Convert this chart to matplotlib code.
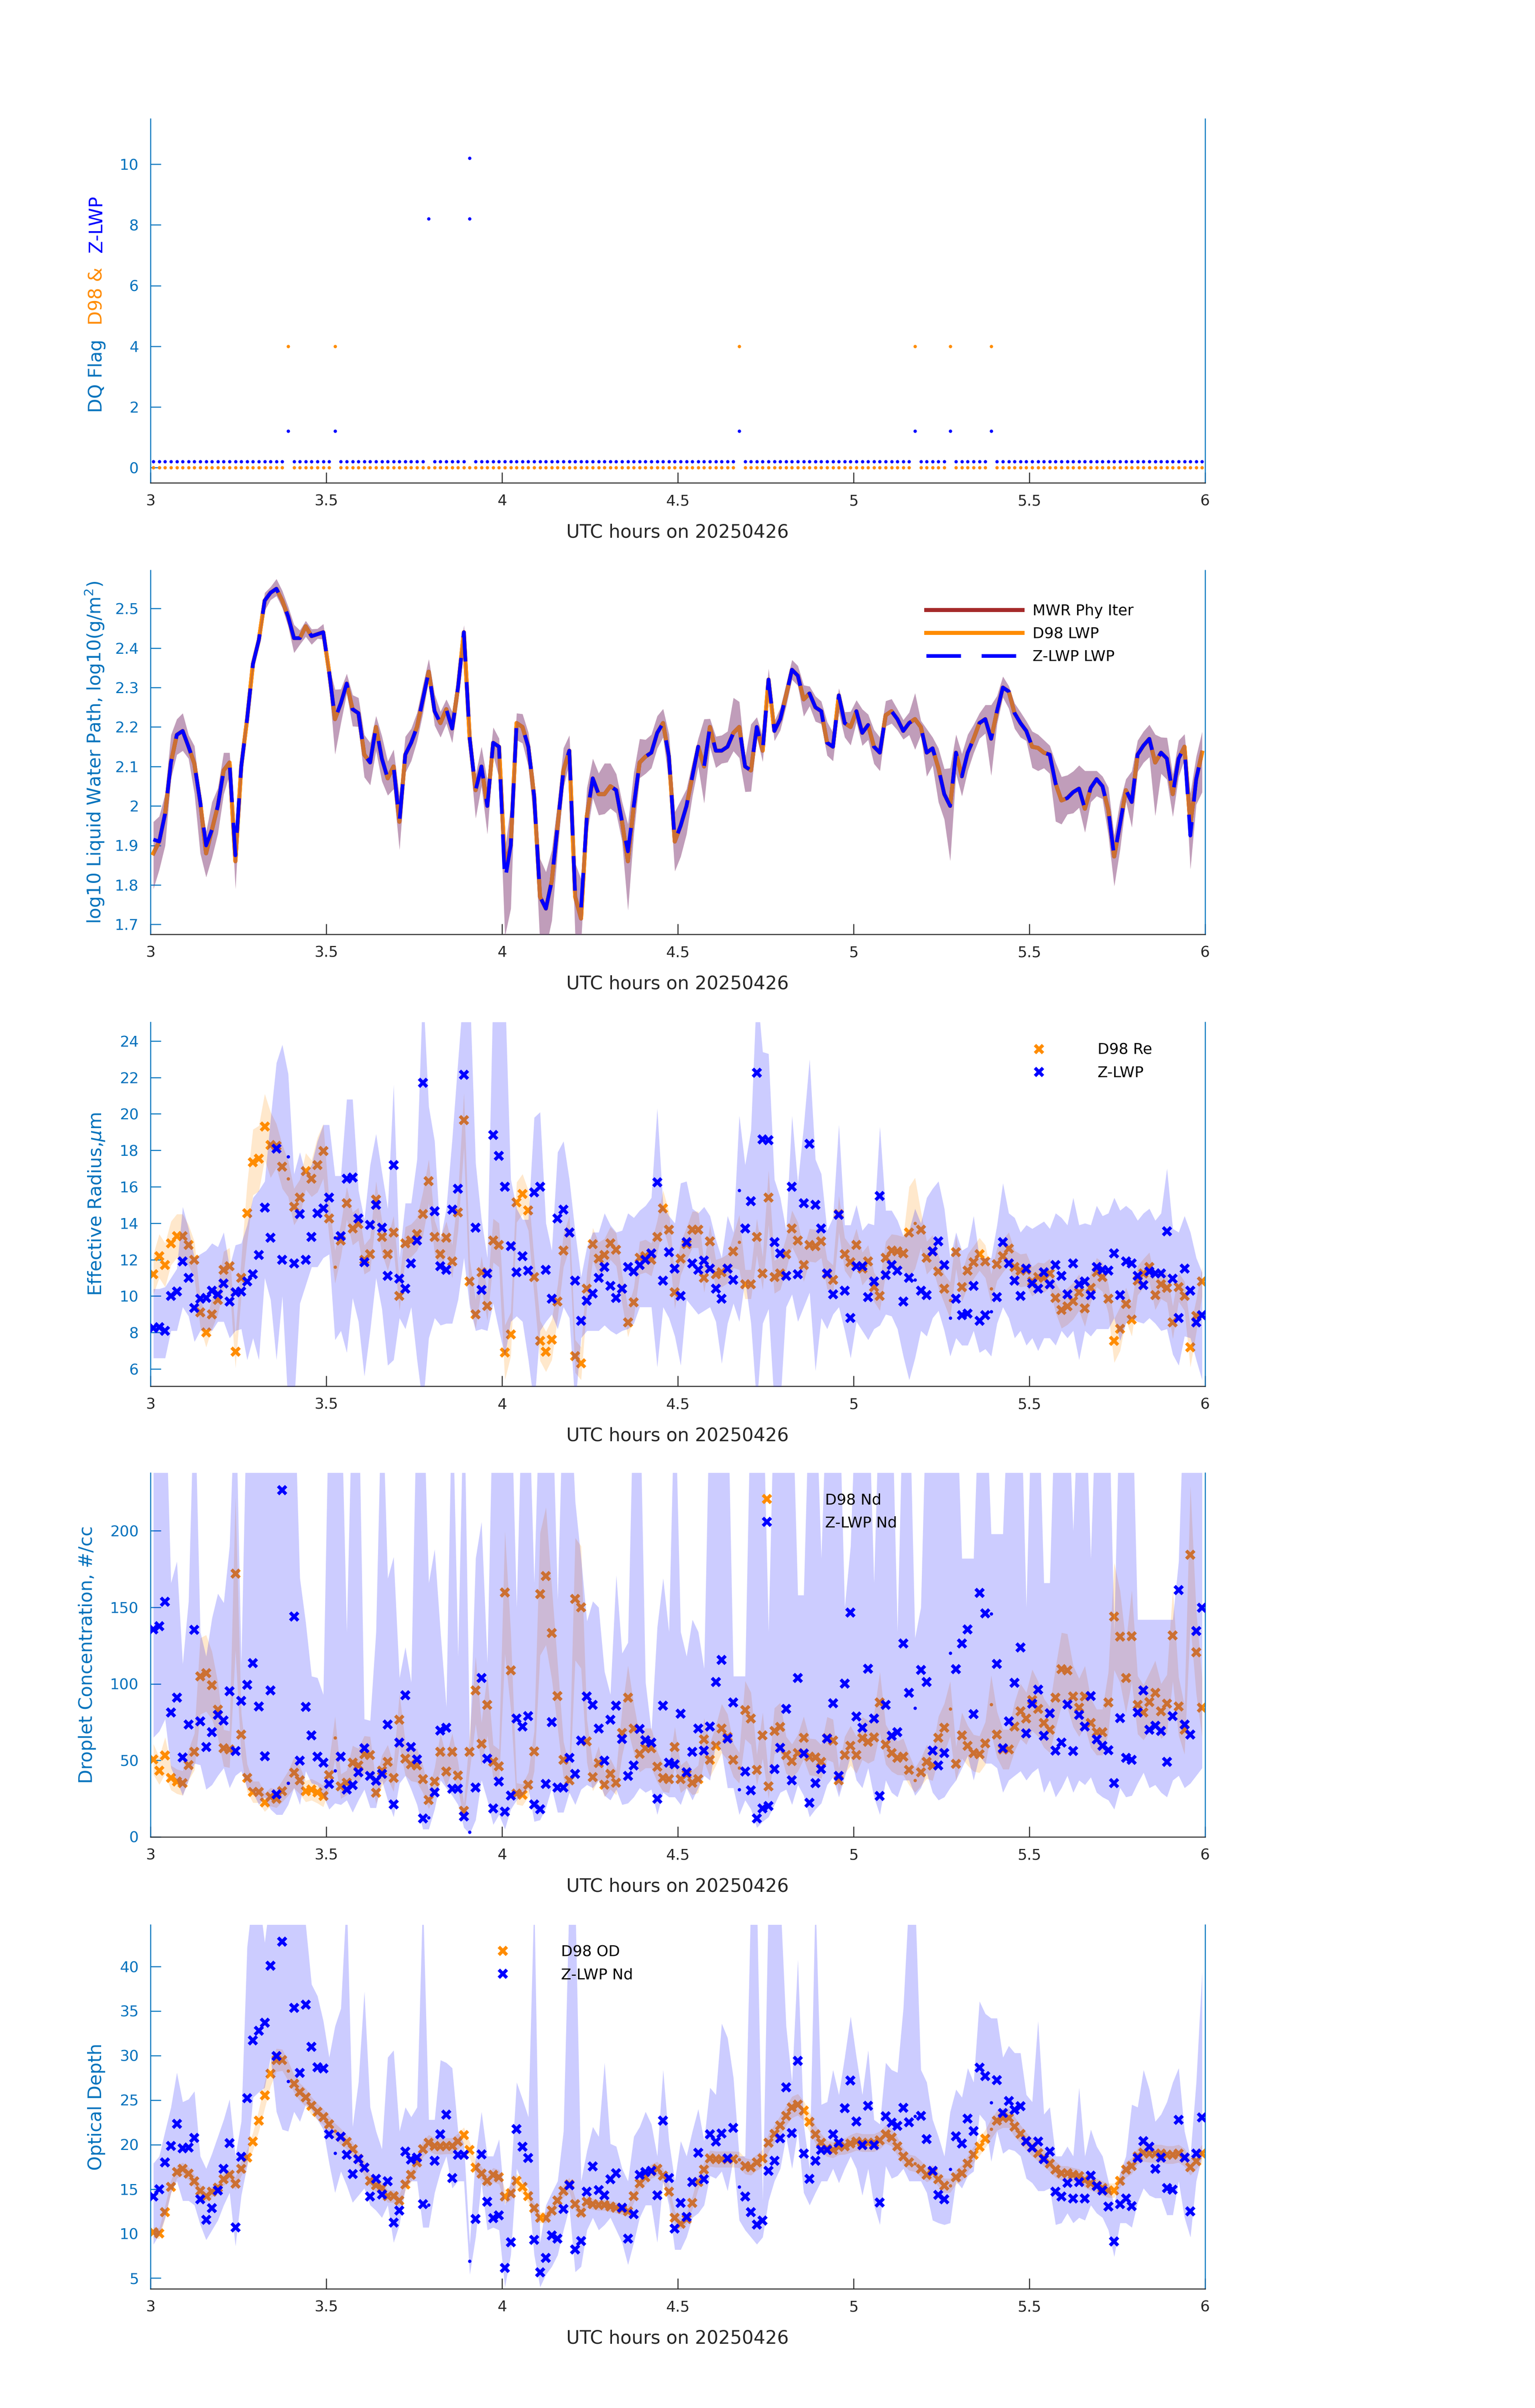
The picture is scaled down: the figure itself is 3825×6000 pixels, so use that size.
import numpy as np
import matplotlib
matplotlib.use("Agg")
import matplotlib.pyplot as plt
from matplotlib.lines import Line2D
from matplotlib.ticker import FuncFormatter

plt.rcParams['font.family'] = ['DejaVu Sans']
nan = float("nan")

# one sample per minute, 03:00 - 06:00 UTC
n_samples = 180
hours = 3.0 + (np.arange(n_samples) + 0.5) / 60.0

# data quality flags (all other samples are 0)
dq_d98_idx = [23, 31, 100, 130, 136, 143]
dq_d98_val = [4, 4, 4, 4, 4, 4]
dq_z_idx = [23, 31, 47, 54, 100, 130, 136, 143]
dq_z_val = [1, 1, 8, 10, 1, 1, 1, 1]
dq_z_extra_idx = [54]
dq_z_extra_val = [8]
dq_z_offset = 0.2

# log10 LWP (D98, MWR follows it)
lwp_d98 = [
    1.88, 1.91, 1.98, 2.11, 2.18, 2.19, 2.15, 2.107, 2.01, 1.88,
    1.94, 2.0, 2.09, 2.11, 1.86, 2.10, 2.22, 2.36, 2.42, 2.52,
    2.54, 2.55, 2.52, 2.48, 2.425, 2.425, 2.455, 2.43, 2.435, 2.44,
    2.34, 2.22, 2.26, 2.31, 2.245, 2.235, 2.13, 2.11, 2.2, 2.12,
    2.07, 2.10, 1.96, 2.13, 2.16, 2.20, 2.27, 2.34, 2.24, 2.21,
    2.245, 2.196, 2.30, 2.44, 2.17, 2.04, 2.10, 2.0, 2.16, 2.15,
    1.85, 1.90, 2.21, 2.20, 2.15, 2.025, 1.77, 1.74, 1.81, 1.95,
    2.09, 2.14, 1.77, 1.715, 1.975, 2.07, 2.03, 2.03, 2.05, 2.04,
    1.96, 1.86, 2.0, 2.11, 2.125, 2.135, 2.185, 2.21, 2.125, 1.91,
    1.95, 2.0, 2.075, 2.15, 2.10, 2.20, 2.14, 2.14, 2.15, 2.185,
    2.20, 2.10, 2.09, 2.20, 2.14, 2.32, 2.19, 2.22, 2.28, 2.345,
    2.33, 2.27, 2.285, 2.25, 2.24, 2.16, 2.15, 2.28, 2.21, 2.20,
    2.24, 2.185, 2.205, 2.15, 2.135, 2.23, 2.24, 2.22, 2.19, 2.21,
    2.22, 2.20, 2.135, 2.146, 2.096, 2.03, 2.0, 2.135, 2.075, 2.135,
    2.17, 2.21, 2.22, 2.17, 2.24, 2.30, 2.29, 2.235, 2.21, 2.19,
    2.15, 2.147, 2.135, 2.13, 2.057, 2.014, 2.02, 2.035, 2.044, 1.993,
    2.046, 2.068, 2.05, 1.99, 1.872, 1.954, 2.04, 2.01, 2.13, 2.153,
    2.17, 2.11, 2.135, 2.12, 2.03, 2.12, 2.15, 1.954, 2.068, 2.135,
]
# Z-LWP LWP: same as D98 except these samples
lwp_z_diff = {0: 1.915, 9: 1.90, 14: 1.875, 60: 1.81, 73: 1.74, 81: 1.885, 177: 1.925}

lwp_err_hi = [
    .08, .064, .05, .07, .04, .045, .03, .045, .015, .055,
    .07, .045, .045, .025, .05, .045, .02, .02, .015, .02,
    .015, .025, .025, .025, .034, .02, .014, .018, .014, .021,
    .014, .075, .036, .025, .036, .039, .05, .05, .028, .057,
    .043, .043, .064, .046, .036, .036, .036, .032, .043, .029,
    .025, .043, .036, .018, .043, .039, .05, .064, .039, .021,
    .04, .1, .025, .033, .036, .043, .096, .093, .078, .057,
    .057, .039, .085, .1, .071, .05, .053, .078, .058, .041,
    .05, .094, .085, .06, .043, .046, .043, .036, .057, .075,
    .064, .043, .036, .021, .12, .021, .036, .039, .039, .089,
    .064, .021, .117, .025, .036, .028, .025, .028, .028, .025,
    .025, .036, .018, .028, .025, .053, .036, .018, .028, .039,
    .028, .06, .027, .043, .039, .036, .031, .025, .028, .027,
    .066, .016, .06, .028, .05, .064, .096, .046, .057, .046,
    .036, .025, .036, .086, .039, .028, .014, .025, .028, .025,
    .039, .034, .032, .023, .053, .06, .058, .053, .059, .096,
    .043, .021, .025, .057, .053, .057, .028, .078, .036, .036,
    .036, .071, .039, .053, .05, .046, .032, .078, .057, .053,
]
lwp_err_lo = [
    .09, .071, .08, .04, .05, .05, .03, .075, .13, .06,
    .07, .07, .06, .03, .07, .045, .02, .02, .015, .025,
    .018, .018, .018, .025, .037, .016, .026, .021, .011, .018,
    .036, .089, .05, .025, .043, .034, .057, .057, .06, .057,
    .043, .057, .071, .046, .046, .036, .036, .021, .036, .036,
    .036, .036, .036, .036, .043, .071, .05, .071, .032, .078,
    .18, .16, .043, .041, .05, .071, .12, .1, .1, .064,
    .043, .032, .1, .06, .05, .05, .053, .05, .056, .058,
    .05, .124, .071, .039, .043, .039, .039, .036, .064, .075,
    .078, .071, .05, .05, .093, .05, .043, .032, .039, .046,
    .078, .064, .053, .025, .028, .021, .025, .028, .028, .025,
    .025, .043, .032, .036, .032, .032, .036, .043, .036, .046,
    .028, .032, .037, .043, .046, .028, .031, .028, .021, .03,
    .077, .02, .06, .043, .086, .064, .139, .053, .05, .046,
    .036, .039, .036, .093, .032, .025, .043, .039, .036, .025,
    .053, .058, .039, .048, .096, .06, .041, .053, .048, .06,
    .036, .043, .032, .064, .075, .064, .028, .064, .043, .043,
    .046, .135, .053, .053, .057, .046, .032, .114, .064, .1,
]

# effective radius, um
re_d98 = [
    11.2, 12.2, 11.7, 12.9, 13.3, 13.3, 12.8, 12.0, 9.1, 8.0,
    9.0, 9.8, 11.45, 11.65, 6.95, 11.0, 14.55, 17.35, 17.55, 19.3,
    18.3, 18.25, 17.1, 16.45, 14.9, 15.4, 16.85, 16.45, 17.2, 17.95,
    14.25, 11.6, 13.05, 15.1, 13.7, 13.95, 12.0, 12.3, 15.3, 13.25,
    12.3, 13.5, 10.0, 12.9, 13.05, 13.4, 14.5, 16.3, 13.25, 12.3,
    13.2, 11.9, 14.6, 19.65, 10.8, 9.0, 11.3, 9.45, 13.05, 12.8,
    6.9, 7.9, 15.15, 15.6, 14.7, 11.05, 7.55, 6.95, 7.6, 9.7,
    12.5, 13.5, 6.7, 6.3, 10.4, 12.85, 12.05, 12.25, 12.9, 12.55,
    10.4, 8.55, 9.65, 12.1, 12.2, 12.0, 13.25, 14.8, 13.65, 10.2,
    12.05, 12.85, 13.65, 13.65, 11.0, 13.0, 11.2, 11.3, 11.5, 12.45,
    12.95, 10.65, 10.65, 13.25, 11.25, 15.4, 11.05, 11.25, 12.3, 13.7,
    13.05, 11.7, 12.8, 12.75, 13.0, 11.2, 10.9, 14.5, 12.3, 11.85,
    12.8, 11.5, 11.9, 10.5, 10.0, 12.1, 12.5, 12.45, 12.35, 13.5,
    14.0, 13.65, 12.1, 12.45, 11.35, 10.4, 9.77, 12.4, 10.5, 11.4,
    11.85, 12.3, 11.9, 10.4, 11.75, 12.2, 12.6, 11.6, 11.4, 11.45,
    10.8, 11.05, 11.0, 11.25, 9.9, 9.23, 9.43, 9.73, 10.2, 9.33,
    10.45, 11.3, 11.05, 9.85, 7.55, 8.2, 9.57, 8.7, 10.85, 11.25,
    11.6, 10.05, 10.65, 10.45, 8.55, 10.5, 10.0, 7.2, 8.9, 10.8,
]
re_d98_err = [
    1.1, 1.2, 1.2, 1.2, 1.2, 1.2, 1.1, 1.0, 0.8, 0.8,
    0.8, 0.8, 1.0, 1.0, 0.9, 1.0, 1.6, 1.8, 1.8, 1.8,
    1.8, 1.2, 1.2, 1.0, 1.0, 1.0, 1.0, 1.0, 1.5, 1.5,
    1.0, 0.9, 0.9, 0.9, 0.9, 0.9, 0.8, 0.9, 1.0, 0.9,
    0.9, 0.9, 0.8, 0.9, 0.9, 0.9, 1.2, 1.2, 0.9, 0.9,
    0.9, 0.9, 1.0, 1.5, 1.2, 0.8, 0.9, 0.8, 1.2, 1.2,
    1.5, 1.2, 1.1, 1.1, 1.1, 1.0, 1.1, 1.1, 1.1, 0.9,
    0.9, 0.9, 0.9, 0.9, 0.9, 0.9, 0.9, 0.9, 0.9, 0.9,
    0.8, 0.8, 0.8, 0.9, 0.9, 0.9, 0.9, 1.0, 1.0, 0.9,
    0.9, 0.9, 1.0, 1.0, 0.8, 0.9, 0.8, 0.8, 0.8, 0.9,
    1.5, 0.8, 0.8, 1.0, 0.9, 1.5, 0.9, 0.9, 0.9, 1.0,
    1.0, 0.9, 0.9, 0.9, 0.9, 0.8, 0.8, 1.0, 0.9, 0.9,
    0.9, 0.9, 0.9, 0.8, 0.8, 0.9, 0.9, 0.9, 0.9, 2.5,
    2.5, 1.0, 0.9, 0.9, 0.9, 0.8, 1.0, 0.9, 0.8, 0.9,
    0.9, 0.9, 0.9, 0.8, 0.9, 0.9, 0.9, 0.9, 0.9, 0.9,
    0.8, 0.8, 0.8, 0.8, 0.8, 1.0, 1.0, 1.0, 1.0, 1.0,
    0.8, 0.8, 0.8, 0.8, 1.2, 1.2, 0.9, 0.9, 0.8, 0.8,
    0.8, 0.8, 0.8, 0.8, 0.9, 0.8, 0.8, 1.1, 0.9, 0.8,
]
re_z = [
    8.25, 8.3, 8.1, 10.0, 10.25, 11.9, 11.0, 9.35, 9.85, 9.9,
    10.3, 10.1, 10.7, 9.7, 10.2, 10.25, 10.8, 11.2, 12.25, 14.85,
    13.2, 18.1, 12.0, 17.65, 11.8, 14.5, 12.0, 13.25, 14.55, 14.8,
    15.4, 13.2, 13.3, 16.45, 16.5, 14.25, 11.85, 13.9, 15.0, 13.75,
    11.1, 17.2, 10.95, 10.4, 11.8, 13.05, 21.7, nan, 14.65, 11.65,
    11.45, 14.75, 15.9, 22.15, nan, 13.75, 10.35, 11.25, 18.85, 17.7,
    16.0, 12.75, 11.3, 12.2, 11.4, 15.7, 16.0, 11.45, 9.85, 14.25,
    14.75, 13.5, 10.85, 8.65, 9.75, 10.15, 11.0, 11.6, 10.55, 9.9,
    10.4, 11.6, 11.35, 11.7, 12.0, 12.35, 16.25, 10.85, 12.4, 11.5,
    10.0, 12.95, 11.8, 11.45, 11.95, 11.5, 10.4, 9.85, 11.5, 10.9,
    15.8, 13.7, 15.2, 22.25, 18.6, 18.55, 12.95, 12.35, 11.1, 16.0,
    11.2, 15.1, 18.35, 15.0, 13.7, 11.25, 10.1, 14.45, 10.3, 8.8,
    11.65, 11.65, 9.95, 10.8, 15.5, 11.15, 11.7, 11.4, 9.7, 11.0,
    10.9, 10.3, 10.05, 12.45, 13.0, 11.7, 8.8, 9.85, 8.95, 9.05,
    10.55, 8.65, 8.95, 9.15, 9.95, 12.95, 11.8, 10.85, 10.0, 11.5,
    10.7, 10.4, 11.3, 10.65, 11.7, 11.1, 10.1, 11.8, 10.65, 10.8,
    10.05, 11.6, 11.45, 11.4, 12.35, 10.05, 11.9, 11.8, 11.1, 10.6,
    11.35, 11.25, 11.25, 13.55, 10.95, 8.8, 11.5, 10.3, 8.55, 8.95,
]
re_z_hi = [
    10.4, 10.4, 10.5, 11.0, 11.5, 14.9, 13.7, 12.1, 12.3, 12.5,
    12.9, 12.7, 13.5, 11.6, 12.8, 12.9, 13.9, 15.4, 15.8, 16.3,
    19.7, 22.8, 23.8, 22.2, 16.7, 17.9, 16.7, 17.2, 18.5, 19.4,
    19.4, 16.6, 16.6, 20.8, 20.8, 15.8, 14.2, 17.2, 18.9, 16.8,
    14.8, 21.6, 12.1, 15.1, 15.1, 17.5, 27, 20.4, 18.5, 13.1,
    14.8, 18.6, 22.9, 27, 27, 17.3, 14.2, 12.1, 27, 27,
    27, 16.4, 14.8, 14.2, 14.2, 19.8, 20.1, 14.0, 12.5, 17.9,
    18.5, 16.4, 13.5, 11.05, 12.7, 13.5, 13.5, 14.55, 13.9, 13.5,
    13.6, 14.55, 14.3, 14.7, 14.96, 15.4, 20.3, 14.96, 14.4, 14.0,
    16.2, 16.3, 14.8, 14.55, 14.9, 14.4, 13.1, 12.1, 14.4, 13.5,
    19.9, 17.2, 19.1, 27, 23.4, 23.3, 16.4, 15.4, 13.6, 19.9,
    16.2, 19.3, 23.0, 17.5, 16.7, 13.6, 14.3, 19.4, 13.9, 13.9,
    15.0, 13.6, 14.0, 13.9, 19.3, 14.7, 14.7, 14.15, 13.3, 13.6,
    14.8, 14.0, 15.4, 15.9, 16.3, 14.8, 12.1, 13.5, 12.5, 12.7,
    14.4, 12.1, 12.1, 12.1, 13.9, 16.2, 14.55, 14.3, 13.5, 13.9,
    13.7, 13.9, 14.1, 13.7, 14.55, 14.3, 13.9, 15.4, 13.9, 14.0,
    13.9, 14.96, 14.4, 14.55, 15.4, 14.7, 14.96, 14.7, 14.15, 14.55,
    14.8, 14.15, 14.55, 17.0, 13.7, 13.5, 14.4, 13.5, 12.1, 11.3,
]
re_z_lo = [
    6.6, 6.6, 6.6, 8.1, 8.1, 9.4, 8.9, 7.5, 8.1, 8.2,
    8.1, 8.6, 8.6, 7.7, 8.1, 8.2, 6.5, 7.7, 6.5, 11.0,
    9.8, 6.5, 10.0, 4.0, 4.0, 9.6, 10.6, 11.6, 11.6, 12.1,
    12.3, 7.6, 8.1, 6.9, 9.9, 8.6, 5.6, 8.1, 11.0, 9.3,
    6.2, 6.5, 8.8, 8.2, 9.4, 6.5, 4.0, 7.7, 8.8, 8.4,
    8.5, 8.5, 9.8, 12.1, 9.4, 8.1, 8.2, 8.1, 9.6, 8.1,
    6.7, 8.6, 8.9, 8.6, 6.5, 4.0, 8.1, 8.6, 9.0, 8.2,
    9.4, 8.8, 4.0, 7.7, 8.1, 8.1, 8.1, 8.4, 8.1, 7.9,
    8.1, 8.2, 8.5, 9.4, 9.4, 9.4, 6.1, 9.4, 8.8, 7.8,
    6.2, 9.8, 9.4, 9.0, 9.2, 9.4, 8.6, 6.3, 8.5, 9.6,
    8.6, 10.9, 8.5, 4.0, 8.5, 9.3, 4.0, 4.0, 9.4, 10.1,
    8.6, 9.4, 10.2, 5.9, 8.8, 8.2, 9.0, 9.4, 8.1, 6.6,
    8.6, 8.1, 7.6, 8.2, 8.4, 9.0, 8.9, 8.2, 6.7, 5.4,
    6.6, 8.1, 7.8, 8.8, 9.2, 8.1, 6.7, 7.7, 7.3, 7.3,
    8.1, 6.9, 7.1, 6.7, 8.5, 9.4, 8.8, 7.7, 8.1, 7.3,
    7.7, 7.0, 7.7, 7.7, 7.3, 8.1, 7.7, 8.1, 6.5, 8.1,
    7.8, 8.2, 8.2, 8.2, 8.8, 7.55, 8.5, 8.8, 8.6, 8.5,
    8.8, 8.5, 8.1, 8.2, 6.8, 6.2, 7.8, 7.7, 6.5, 5.4,
]

# droplet concentration, #/cc
nd_d98 = [
    50.7, 43.2, 53.1, 38.6, 36.2, 35.1, 47.0, 55.6, 105, 107,
    99, 83, 58, 57.2, 172, 66.8, 38.6, 29.3, 29.3, 22.5,
    26.1, 25, 29.8, 35, 41.9, 37, 29.8, 30.9, 29, 26.6,
    40.3, 64.7, 33, 35.4, 48.6, 46.7, 54, 53.5, 28.7, 43.2,
    49.1, 38.6, 76.5, 51.2, 47.5, 46.7, 37.8, 24.2, 36.2, 55.6,
    42.7, 55.6, 40, 16.9, 55.6, 95.8, 60.7, 86.2, 49.1, 46.2,
    159.7, 108.7, 28.2, 27.4, 34.1, 55.9, 158.6, 170.4, 133.2, 92.1,
    50.2, 37, 155.4, 150.1, 62.5, 39, 48.3, 34.1, 41.1, 35.4,
    68, 91, 70.9, 54.3, 58, 58, 45.9, 38.6, 37.8, 58.8,
    37.8, 41, 35.4, 37.8, 63.6, 50.2, 59.6, 70.9, 65.2, 50.2,
    45, 82.9, 77.3, 43.8, 66.3, 33, 69.2, 71.7, 53.5, 49.6,
    54.8, 64.7, 52.3, 51.9, 49.1, 64.4, 62.8, 37, 53.5, 59.6,
    53.5, 64.4, 62, 65, 87.8, 60.4, 54.8, 51.5, 52.3, 43.8,
    37, 42.2, 49.1, 46.7, 64.7, 71.2, 83.7, 47.8, 66.3, 59.6,
    54.8, 53.9, 61.2, 86.6, 66.8, 57.2, 57.2, 72.1, 82.1, 77.3,
    89.4, 83.7, 74.4, 70, 91, 109.5, 108.7, 91.8, 84.5, 91.8,
    74.4, 68.4, 68.4, 87.8, 144.1, 130.8, 103.9, 131.2, 86.2, 81.3,
    88, 94.2, 82.1, 87, 131.7, 85.3, 70, 184.4, 120.5, 84.5,
]
nd_d98_err = [
    10, 9, 12, 8, 8, 8, 10, 12, 25, 25,
    22, 18, 12, 12, 50, 14, 9, 7, 7, 6,
    6, 6, 7, 8, 10, 9, 7, 7, 7, 7,
    9, 14, 8, 8, 11, 11, 12, 12, 7, 10,
    11, 9, 17, 11, 11, 11, 9, 6, 9, 12,
    10, 12, 9, 5, 12, 22, 14, 20, 11, 11,
    40, 25, 7, 7, 8, 13, 40, 45, 30, 21,
    12, 9, 40, 40, 14, 9, 11, 8, 10, 8,
    15, 21, 16, 12, 13, 13, 10, 9, 9, 13,
    9, 9, 8, 9, 14, 11, 13, 16, 15, 11,
    10, 19, 17, 10, 15, 8, 15, 16, 12, 11,
    12, 14, 12, 12, 11, 14, 14, 8, 12, 13,
    12, 14, 14, 15, 20, 13, 12, 11, 12, 10,
    8, 9, 11, 10, 14, 16, 18, 11, 15, 13,
    12, 12, 14, 19, 15, 13, 13, 16, 18, 17,
    20, 18, 16, 15, 20, 24, 24, 20, 19, 20,
    16, 15, 15, 20, 35, 30, 23, 30, 19, 18,
    19, 21, 18, 19, 30, 19, 16, 45, 27, 19,
]
nd_z = [
    135.6, 137.7, 153.8, 81.3, 91, 51.9, 73.3, 135.3, 75.4, 58.8,
    68.4, 79.7, 76, 95.3, 56, 88.9, 99.5, 113.5, 85.3, 52.7,
    95.8, 27.7, 226.7, 35, 144.1, 49.9, 85, 66.3, 52.3, 48.6,
    34.6, 43.2, 52.3, 30.9, 33.8, 42.2, 58, 39.9, 36.7, 41.1,
    73.3, 21.3, 61.5, 92.6, 58.8, 50.7, 12.1, 12.6, 29, 69.6,
    71.2, 31.4, 31.4, 13.2, 3.2, 32.2, 103.9, 51.2, 18.5, 36.2,
    16.4, 27, 77.3, 72, 78.9, 21.3, 18, 34.6, 74.9, 32.2,
    32.2, 51.5, 41.1, 62.8, 91.8, 86.2, 70.9, 49.9, 76.5, 85.7,
    63.9, 39.9, 46.7, 70.5, 63.1, 61.5, 25, 85.7, 48.6, 47.5,
    80.5, 42.2, 55.6, 70.9, 56.4, 72.1, 101.1, 115.6, 64.1, 87.8,
    30.9, 42.7, 30.3, 12.1, 18.5, 20.1, 44.3, 58.3, 83.7, 37,
    103.9, 54.4, 22.2, 35.1, 44.3, 64.1, 87.3, 39.9, 100.2, 146.5,
    78.6, 71.2, 109.8, 77.3, 26.6, 86.2, 66, 68.4, 126.4, 94.2,
    84.1, 109.2, 101.1, 56.4, 46.7, 54.8, 120, 109.5, 126.4, 135.6,
    80.2, 159.4, 146.2, 145.7, 113, 58, 75.4, 100.6, 123.7, 67.6,
    87, 96.3, 66, 80.8, 56.4, 61.5, 86.6, 56, 79.7, 72.1,
    92.1, 63.6, 59.6, 56.7, 35.1, 77.6, 51.5, 50.2, 81.3, 95.8,
    70, 72.5, 69.2, 49.1, 78.9, 161.4, 73.3, 66.8, 134.5, 149.8,
]
nd_z_hi = [
    300, 300, 300, 166, 180, 113, 154, 300, 134, 118,
    143, 159, 153, 190, 300, 113, 300, 300, 300, 300,
    300, 300, 300, 300, 300, 169, 140, 105, 104, 93,
    300, 300, 300, 134, 300, 300, 77, 76, 134, 300,
    169, 183, 104, 124, 101, 300, 300, 166, 188, 134,
    85, 300, 118, 300, 58, 182, 206, 114, 300, 300,
    300, 300, 150, 300, 300, 166, 300, 300, 300, 155,
    300, 300, 219, 182, 141, 154, 150, 108, 93, 171,
    120, 127, 300, 300, 101, 69, 137, 169, 134, 300,
    134, 118, 142, 134, 110, 300, 300, 300, 300, 105,
    105, 105, 300, 300, 300, 134, 300, 300, 300, 300,
    158, 158, 300, 300, 182, 300, 300, 300, 150, 190,
    300, 300, 300, 166, 300, 300, 300, 134, 300, 300,
    130, 150, 300, 300, 300, 300, 300, 300, 182, 182,
    182, 300, 300, 198, 198, 198, 300, 300, 300, 150,
    300, 300, 166, 166, 300, 300, 300, 200, 300, 300,
    182, 300, 300, 300, 134, 300, 300, 300, 142, 142,
    142, 142, 142, 142, 142, 180, 300, 300, 300, 300,
]
nd_z_lo = [
    65, 69, 77, 45, 37, 27, 37, 48, 47, 31,
    34, 40, 45, 32, 40, 43, 32, 29, 21, 26,
    18, 14.5, 14.5, 21, 32, 21, 43, 35, 34, 27,
    18, 22, 21, 24, 16, 24, 31, 19, 19, 37,
    24, 13, 35, 40, 31, 21, 5, 5, 18, 37,
    32, 27, 21, 6, 2, 11, 37, 24, 8, 14.5,
    5, 18, 24, 27, 32, 10, 11, 19, 32, 16,
    16, 29, 21, 31, 34, 32, 37, 27, 24, 31,
    21, 22, 26, 32, 29, 31, 14.5, 29, 26, 26,
    21, 32, 24, 32, 40, 37, 61, 56, 32, 32,
    14.5, 24, 18, 6, 10, 13, 21, 29, 31, 21,
    34, 27, 13, 18, 22, 34, 39, 26, 39, 53,
    37, 32, 45, 26, 14.5, 37, 29, 26, 37, 37,
    27, 32, 42, 29, 24, 26, 32, 37, 45, 53,
    37, 53, 48, 48, 45, 29, 37, 40, 43, 37,
    42, 45, 29, 37, 26, 32, 40, 29, 37, 34,
    39, 29, 26, 24, 18, 32, 26, 27, 35, 42,
    32, 34, 29, 26, 37, 40, 32, 35, 40, 45,
]

# optical depth
od_d98 = [
    10.14, 10.0, 12.4, 15.25, 16.9, 17.3, 16.75, 15.9, 14.8, 14.2,
    14.7, 15.15, 16.1, 16.6, 15.6, 17.3, 18.55, 20.35, 22.7, 25.55,
    27.95, 29.5, 29.5, 28.3, 26.85, 25.9, 25.3, 24.35, 23.7, 23.1,
    22.3, 21.5, 20.9, 20.3, 19.5, 18.4, 17.4, 15.95, 15.45, 15.1,
    14.2, 14.2, 13.7, 15.5, 16.6, 18.0, 19.5, 20.2, 19.85, 19.8,
    19.85, 19.85, 20.35, 21.05, 19.4, 17.4, 16.75, 15.95, 16.6, 16.35,
    14.15, 14.55, 15.95, 15.25, 14.2, 12.85, 11.8, 11.8, 12.6, 13.7,
    14.8, 15.5, 13.3, 12.35, 13.6, 13.3, 13.2, 13.2, 13.05, 12.9,
    12.75, 12.5, 14.2, 15.65, 16.35, 17.0, 17.3, 16.5, 14.7, 11.8,
    11.1, 11.65, 13.45, 15.8, 17.2, 18.45, 18.35, 18.35, 18.35, 18.35,
    18.3, 17.6, 17.45, 18.0, 18.45, 20.2, 21.2, 22.15, 23.25, 24.2,
    24.5, 23.8, 22.55, 21.15, 20.2, 19.55, 19.4, 19.75, 19.8, 20.1,
    20.35, 20.2, 20.2, 20.2, 20.5, 21.15, 20.8, 19.8, 18.7, 18.0,
    17.85, 17.3, 16.6, 16.9, 16.1, 15.4, 15.4, 16.35, 16.8, 17.85,
    18.85, 19.75, 20.65, 21.75, 22.7, 23.0, 23.0, 22.0, 21.2, 20.35,
    19.7, 19.05, 18.5, 17.85, 17.2, 16.8, 16.8, 16.6, 16.45, 16.0,
    15.65, 15.4, 15.1, 14.85, 14.85, 15.95, 17.2, 17.6, 18.7, 19.1,
    19.0, 19.0, 19.0, 18.85, 18.85, 19.0, 18.55, 17.45, 18.15, 19.0,
]
od_d98_err = [
    0.6, 0.6, 0.7, 0.7, 0.7, 0.7, 0.7, 0.7, 0.7, 0.6,
    0.6, 0.6, 0.7, 0.7, 0.7, 0.8, 0.9, 1.0, 1.2, 1.5,
    1.4, 1.3, 1.2, 1.1, 1.0, 1.0, 1.0, 1.0, 0.9, 0.9,
    0.9, 0.9, 0.9, 0.8, 0.8, 0.8, 0.8, 0.7, 0.7, 0.7,
    0.7, 0.7, 0.7, 0.7, 0.8, 0.8, 0.9, 0.9, 0.9, 0.9,
    0.9, 0.9, 0.9, 0.9, 0.9, 0.8, 0.8, 0.7, 0.8, 0.8,
    0.8, 0.8, 0.8, 0.7, 0.7, 0.6, 0.6, 0.6, 0.6, 0.7,
    0.7, 0.8, 0.7, 0.6, 0.7, 0.6, 0.6, 0.6, 0.6, 0.6,
    0.6, 0.6, 0.7, 0.7, 0.8, 0.8, 0.8, 0.8, 0.8, 0.7,
    0.6, 0.6, 0.7, 0.8, 0.8, 0.9, 0.9, 0.9, 0.9, 0.9,
    0.9, 0.9, 0.9, 0.9, 1.0, 1.0, 1.0, 1.1, 1.1, 1.2,
    1.2, 1.1, 1.1, 1.0, 1.0, 0.9, 0.9, 0.9, 0.9, 1.0,
    1.0, 1.0, 1.0, 1.0, 1.0, 1.0, 1.0, 1.0, 0.9, 0.9,
    0.9, 0.9, 0.8, 0.8, 0.8, 0.8, 0.8, 0.8, 0.9, 0.9,
    0.9, 1.0, 1.0, 1.1, 1.1, 1.1, 1.1, 1.1, 1.0, 1.0,
    1.0, 0.9, 0.9, 0.9, 0.9, 0.8, 0.8, 0.8, 0.8, 0.8,
    0.8, 0.8, 0.8, 0.8, 0.8, 0.8, 0.9, 0.9, 0.9, 1.0,
    1.0, 1.0, 1.0, 1.0, 1.0, 1.0, 1.0, 0.9, 0.9, 1.0,
]
od_z = [
    14.15, 15.0, 18.0, 19.85, 22.35, 19.6, 19.65, 20.75, 13.85, 11.55,
    12.85, 14.85, 17.3, 20.15, 10.7, 18.65, 25.2, 31.7, 32.8, 33.7,
    40.1, 29.95, 42.8, 27.1, 35.35, 28.05, 35.7, 31.0, 28.7, 28.55,
    21.15, 19.05, 20.9, 18.85, 16.7, 18.35, 17.4, 14.15, 16.15, 14.4,
    15.9, 11.25, 12.6, 19.2, 18.3, 18.55, 13.3, 13.2, 18.2, 21.15,
    23.35, 16.25, 18.85, 18.85, 6.9, 11.65, 18.9, 13.6, 11.75, 12.05,
    6.15, 9.05, 21.75, 19.75, 18.5, 9.3, 5.65, 7.25, 9.8, 9.45,
    12.75, 15.45, 8.2, 9.15, 14.7, 17.55, 14.9, 14.3, 16.1, 16.8,
    12.9, 9.45, 12.2, 16.6, 16.9, 17.05, 14.3, 22.7, 16.25, 10.55,
    13.45, 11.85, 15.8, 19.1, 16.1, 21.15, 20.35, 21.25, 18.45, 21.9,
    15.25, 14.15, 12.4, 11.0, 11.45, 17.05, 18.2, 20.7, 26.45, 21.3,
    29.4, 19.0, 16.15, 18.2, 19.4, 19.4, 21.15, 20.2, 24.1, 27.2,
    22.6, 19.95, 24.35, 19.95, 13.5, 23.2, 22.45, 22.1, 24.15, 22.5,
    23.2, 23.25, 20.6, 17.05, 14.35, 13.85, 17.25, 20.95, 20.1, 22.9,
    21.5, 28.65, 27.7, 24.7, 27.25, 23.55, 24.9, 23.9, 24.3, 20.4,
    19.65, 20.35, 18.35, 19.2, 14.7, 14.15, 15.7, 13.95, 15.8, 13.95,
    16.5, 15.35, 14.85, 13.05, 9.1, 13.3, 13.95, 13.1, 18.5, 20.4,
    19.75, 17.3, 18.55, 15.1, 14.95, 22.8, 18.55, 12.5, 19.0, 23.05,
]
od_z_hi = [
    17.9, 18.7, 21.5, 24.2, 28.1, 24.8, 25.1, 26.0, 18.7, 17.3,
    19.0, 20.9, 22.8, 25.1, 18.7, 22.6, 42.2, 48, 48, 42.7,
    48, 48, 48, 48, 48, 48, 44.7, 38.0, 36.7, 33.9,
    29.8, 33.3, 35.3, 48, 22.0, 27.0, 37.2, 24.2, 21.5, 19.5,
    29.8, 30.6, 21.5, 24.2, 23.1, 24.2, 48, 22.8, 22.8, 29.5,
    29.2, 28.6, 21.5, 20.1, 8.8, 18.7, 23.7, 18.7, 18.7, 20.6,
    13.2, 15.9, 27.0, 25.1, 23.1, 48, 9.0, 13.2, 14.6, 15.9,
    21.5, 48, 48, 15.9, 19.3, 22.0, 20.9, 29.2, 20.1, 19.8,
    17.3, 15.9, 20.9, 22.0, 23.7, 22.3, 18.7, 28.4, 20.4, 15.9,
    20.4, 18.7, 21.5, 24.0, 20.4, 26.4, 25.6, 33.6, 32.0, 27.5,
    18.7, 18.7, 48, 48, 13.7, 48, 48, 48, 33.3, 27.0,
    40.8, 22.3, 17.3, 48, 24.5, 24.8, 28.4, 25.6, 29.8, 34.4,
    29.8, 25.6, 30.6, 22.8, 22.3, 29.2, 28.4, 28.1, 35.3, 48,
    48, 28.4, 27.0, 22.8, 20.9, 18.7, 23.7, 26.2, 25.3, 28.6,
    27.0, 36.1, 34.7, 34.2, 34.2, 29.8, 31.1, 30.3, 30.3, 25.6,
    24.8, 33.9, 23.4, 24.2, 18.7, 18.7, 19.8, 18.7, 26.4, 18.7,
    21.7, 19.8, 18.7, 15.9, 13.2, 16.8, 18.7, 24.5, 24.2, 28.4,
    26.2, 22.6, 23.4, 24.8, 27.0, 28.6, 21.5, 18.7, 27.0, 39.4,
]
od_z_lo = [
    8.8, 9.9, 11.8, 14.6, 15.9, 13.7, 13.7, 13.2, 11.0, 9.3,
    10.4, 11.5, 13.2, 14.6, 8.6, 14.3, 17.6, 25.3, 25.9, 26.4,
    29.8, 23.7, 21.7, 21.5, 23.7, 22.6, 24.5, 23.9, 22.8, 21.7,
    17.9, 14.6, 17.0, 15.4, 13.5, 14.3, 15.1, 13.2, 12.6, 11.8,
    13.2, 9.0, 11.0, 15.1, 15.9, 15.9, 10.7, 10.7, 14.6, 17.0,
    18.7, 15.1, 15.9, 15.9, 5.4, 9.6, 15.7, 10.4, 10.7, 10.4,
    4.0, 7.6, 17.3, 15.7, 15.1, 7.6, 4.0, 5.4, 6.3, 7.6,
    10.4, 12.9, 5.7, 6.3, 10.4, 11.8, 10.4, 11.0, 11.8, 10.4,
    9.0, 6.5, 9.0, 11.8, 13.2, 13.2, 9.0, 15.9, 13.2, 8.2,
    8.2, 9.6, 11.8, 12.3, 13.2, 16.5, 16.2, 17.0, 14.8, 18.4,
    11.5, 10.4, 9.6, 8.8, 9.6, 13.7, 15.9, 17.3, 20.9, 17.3,
    21.5, 14.6, 13.2, 14.6, 15.9, 15.9, 17.3, 15.7, 17.3, 18.7,
    17.3, 14.3, 17.3, 13.2, 11.0, 17.6, 16.2, 16.5, 17.3, 15.9,
    15.9, 15.9, 14.6, 11.5, 11.2, 11.0, 11.2, 15.9, 15.1, 16.5,
    17.0, 23.4, 22.6, 18.1, 21.5, 19.0, 19.5, 19.3, 18.7, 16.2,
    15.7, 14.8, 14.8, 15.1, 11.0, 11.2, 12.3, 11.2, 11.8, 11.5,
    13.2, 12.3, 11.8, 10.4, 7.4, 11.2, 11.2, 10.7, 13.5, 15.1,
    14.3, 14.0, 14.0, 12.1, 12.1, 15.9, 11.8, 9.6, 15.9, 18.7,
]


def fit(values):
    # guard against a miscounted list: pad with NaN / cut to n_samples
    a = np.asarray(values, dtype=float)
    if len(a) >= n_samples:
        return a[:n_samples]
    return np.concatenate([a, np.full(n_samples - len(a), np.nan)])


c_axis = '#0072BD'
c_grey = '#262626'
c_d98 = '#FF8C00'
c_z = '#0000FF'
c_mwr = '#A52A2A'
x_ms, x_mew = 4.8, 2.0

# flag arrays
dq_d98 = np.zeros(n_samples)
dq_d98[dq_d98_idx] = dq_d98_val
dq_z = np.zeros(n_samples)
dq_z[dq_z_idx] = dq_z_val
d98_ok = dq_d98 == 0
z_ok = dq_z == 0

lwp_d98_a = fit(lwp_d98)
lwp_z_a = lwp_d98_a.copy()
for k, v in lwp_z_diff.items():
    lwp_z_a[k] = v
lwp_lo = lwp_d98_a - fit(lwp_err_lo)
lwp_hi = lwp_d98_a + fit(lwp_err_hi)

fig = plt.figure(figsize=(12.75, 20), dpi=300)
left, width, height = 0.098, 0.687, 0.1512
bottoms = [0.7995, 0.612, 0.4243, 0.2372, 0.0495]
axes = [fig.add_axes([left, b, width, height]) for b in bottoms]
fmt = FuncFormatter(lambda v, p: f'{v:g}')


def style(ax, ylim, yticks):
    ax.set_xlim(3, 6)
    ax.set_ylim(*ylim)
    ax.set_xticks([3, 3.5, 4, 4.5, 5, 5.5, 6])
    ax.set_yticks(yticks)
    ax.xaxis.set_major_formatter(fmt)
    ax.yaxis.set_major_formatter(fmt)
    ax.spines['top'].set_visible(False)
    ax.spines['left'].set_color(c_axis)
    ax.spines['right'].set_color(c_axis)
    ax.spines['bottom'].set_color(c_grey)
    for s in ax.spines.values():
        s.set_linewidth(0.6)
    ax.tick_params(axis='x', direction='in', length=6.3, width=0.6,
                   colors=c_grey, labelsize=9, pad=6.8, top=False)
    ax.tick_params(axis='y', direction='in', length=6.3, width=0.6,
                   colors=c_axis, labelsize=9, pad=7, right=False)
    ax.set_xlabel('UTC hours on 20250426', fontsize=11, color=c_grey)
    ax.xaxis.set_label_coords(0.5, -0.112)


def ylabel(ax, text, x):
    ax.set_ylabel(text, fontsize=11, color=c_axis)
    ax.yaxis.set_label_coords(x, 0.5)
    ax.yaxis.label.set_verticalalignment('center')


def legend(ax, handles, labels, x, y):
    ax.legend(handles, labels, loc='upper left', bbox_to_anchor=(x, y),
              frameon=False, fontsize=9, handlelength=6.4, handletextpad=0.68,
              labelspacing=0.56, borderpad=0, borderaxespad=0)


def x_handle(color):
    return Line2D([], [], ls='none', marker='x', color=color, ms=x_ms, mew=x_mew)


def scatter_panel(ax, d98, d98_err, z, z_lo, z_hi):
    d98 = fit(d98)
    err = fit(d98_err)
    z = fit(z)
    ax.fill_between(hours, d98 - err, d98 + err, color=c_d98, alpha=0.2,
                    lw=0, zorder=1)
    ax.plot(hours[d98_ok], d98[d98_ok], 'x', color=c_d98, ms=x_ms, mew=x_mew,
            zorder=2)
    ax.plot(hours[~d98_ok], d98[~d98_ok], '.', color=c_d98, ms=4, mew=0,
            zorder=2)
    ax.fill_between(hours, fit(z_lo), fit(z_hi), color=c_z, alpha=0.2,
                    lw=0, zorder=3)
    ax.plot(hours[z_ok], z[z_ok], 'x', color=c_z, ms=x_ms, mew=x_mew, zorder=4)
    ax.plot(hours[~z_ok], z[~z_ok], '.', color=c_z, ms=4, mew=0, zorder=4)


# panel 1: DQ flags
ax = axes[0]
ax.plot(hours, dq_d98, '.', color=c_d98, ms=4, mew=0)
ax.plot(hours, dq_z + dq_z_offset, '.', color=c_z, ms=4, mew=0)
ax.plot(hours[dq_z_extra_idx], np.array(dq_z_extra_val) + dq_z_offset, '.',
        color=c_z, ms=4, mew=0)
style(ax, (-0.5, 11.5), [0, 2, 4, 6, 8, 10])
for txt, yy, col in [('DQ Flag', 0.294, c_axis), ('D98 &', 0.513, c_d98),
                     ('Z-LWP', 0.711, c_z)]:
    ax.text(-0.0506, yy, txt, transform=ax.transAxes, rotation=90,
            rotation_mode='anchor', ha='center', va='center', fontsize=11,
            color=col)

# panel 2: LWP
ax = axes[1]
ax.fill_between(hours, lwp_lo, lwp_hi, color=c_mwr, alpha=0.2, lw=0, zorder=1)
l_mwr, = ax.plot(hours, lwp_d98_a, color=c_mwr, lw=2.4, zorder=2)
ax.fill_between(hours, lwp_lo, lwp_hi, color=c_d98, alpha=0.2, lw=0, zorder=3)
l_d98, = ax.plot(hours, lwp_d98_a, color=c_d98, lw=2.4, zorder=4)
ax.fill_between(hours, lwp_lo, lwp_hi, color=c_z, alpha=0.2, lw=0, zorder=5)
l_z, = ax.plot(hours, lwp_z_a, color=c_z, lw=2.2, dashes=(9.4, 5.6), zorder=6)
style(ax, (1.675, 2.597), [1.7, 1.8, 1.9, 2.0, 2.1, 2.2, 2.3, 2.4, 2.5])
ylabel(ax, r'log10 Liquid Water Path, log10(g/m$^2$)', -0.0533)
legend(ax, [l_mwr, l_d98, l_z], ['MWR Phy Iter', 'D98 LWP', 'Z-LWP LWP'],
       0.7356, 0.907)

# panel 3: effective radius
ax = axes[2]
scatter_panel(ax, re_d98, re_d98_err, re_z, re_z_lo, re_z_hi)
style(ax, (5.05, 25.03), [6, 8, 10, 12, 14, 16, 18, 20, 22, 24])
ylabel(ax, r'Effective Radius,$\mu$m', -0.0510)
legend(ax, [x_handle(c_d98), x_handle(c_z)], ['D98 Re', 'Z-LWP'],
       0.797, 0.943)

# panel 4: droplet concentration
ax = axes[3]
scatter_panel(ax, nd_d98, nd_d98_err, nd_z, nd_z_lo, nd_z_hi)
style(ax, (0, 238), [0, 50, 100, 150, 200])
ylabel(ax, 'Droplet Concentration, #/cc', -0.0597)
legend(ax, [x_handle(c_d98), x_handle(c_z)], ['D98 Nd', 'Z-LWP Nd'],
       0.5388, 0.944)

# panel 5: optical depth
ax = axes[4]
scatter_panel(ax, od_d98, od_d98_err, od_z, od_z_lo, od_z_hi)
style(ax, (3.8, 44.7), [5, 10, 15, 20, 25, 30, 35, 40])
ylabel(ax, 'Optical Depth', -0.0510)
legend(ax, [x_handle(c_d98), x_handle(c_z)], ['D98 OD', 'Z-LWP Nd'],
       0.2884, 0.944)

fig.savefig('out.png', dpi=300)
